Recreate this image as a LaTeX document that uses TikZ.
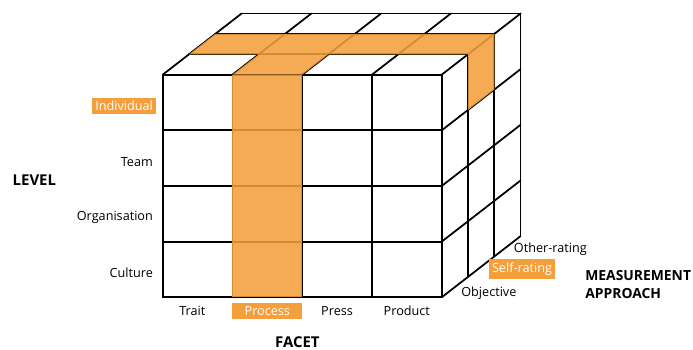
\documentclass[tikz,border=0pt]{standalone}
\usepackage{fontspec}
\setmainfont{Open Sans}
\usepackage{xcolor}
\usepackage{tikz}
\usetikzlibrary{positioning}

\definecolor{hilite}{RGB}{244,158,60}

\tikzset{
	cell/.style={draw=black, line width=1pt, line cap=round},
	shade/.style={fill=hilite, opacity=0.88},
	axis/.style={font=\fontsize{8.5}{10.6}\selectfont\bfseries, align=left, inner sep=0pt},
	tag/.style={font=\fontsize{7.2}{8.6}\selectfont, inner sep=2pt},
	picked/.style={fill=hilite, text=white},
	rowlab/.style={tag, anchor=east, xshift=-3.4pt, yshift=-2pt},
	collab/.style={tag, anchor=north, yshift=-2.8pt, minimum width=1.395cm},
	deplab/.style={tag, anchor=west, xshift=1.5pt, yshift=-1.5pt},
}

\begin{document}
\begin{tikzpicture}[x={(1.395cm,0cm)}, y={(0cm,1.113cm)}, z={(0.526cm,0.408cm)}]

	\useasboundingbox (-3.254cm,-1.034cm) rectangle (10.606cm,5.946cm);

	% front face: facet x level
	\foreach \i in {0,...,4} \draw[cell] (\i,0,0) -- (\i,4,0);
	\foreach \j in {0,...,4} \draw[cell] (0,\j,0) -- (4,\j,0);
	% top face
	\foreach \i in {0,...,4} \draw[cell] (\i,4,0) -- (\i,4,3);
	\foreach \k in {1,...,3} \draw[cell] (0,4,\k) -- (4,4,\k);
	% right face
	\foreach \k in {1,...,3} \draw[cell] (4,0,\k) -- (4,4,\k);
	\foreach \j in {0,...,3} \draw[cell] (4,\j,0) -- (4,\j,3);

	% process column and the self-rating slice
	\fill[shade] (1,0,0) -- (2,0,0) -- (2,4,0) -- (1,4,0) -- cycle;
	\fill[shade] (1,4,0) -- (2,4,0) -- (2,4,1) -- (4,4,1) -- (4,3,1) -- (4,3,2)
		-- (4,4,2) -- (0,4,2) -- (0,4,1) -- (1,4,1) -- cycle;

	% level
	\node[axis] (level) at (-1.84,2.1,0) {LEVEL};
	\node[rowlab, picked] (individual) at (0,3.5,0) {Individual};
	\node[rowlab] (team) at (0,2.5,0) {Team};
	\node[rowlab] (organisation) at (0,1.5,0) {Organisation};
	\node[rowlab] (culture) at (0,0.5,0) {Culture};

	% facet
	\node[collab, xshift=-3pt] (trait) at (0.5,0,0) {Trait};
	\node[collab, picked] (process) at (1.5,0,0) {Process};
	\node[collab] (press) at (2.5,0,0) {Press};
	\node[collab] (product) at (3.5,0,0) {Product};
	\node[axis] (facet) at (1.93,-0.8,0) {FACET};

	% measurement approach
	\node[deplab, yshift=-2pt] (objective) at (4,0,0.5) {Objective};
	\node[deplab, picked, xshift=2.5pt] (selfrating) at (4,0,1.5) {Self-rating};
	\node[deplab] (otherrating) at (4,0,2.5) {Other-rating};
	\node[axis, anchor=west, font=\fontsize{7.9}{10.6}\selectfont\bfseries] (approach)
		at (6.054,0.227,0) {MEASUREMENT\\APPROACH};
\end{tikzpicture}
\end{document}
